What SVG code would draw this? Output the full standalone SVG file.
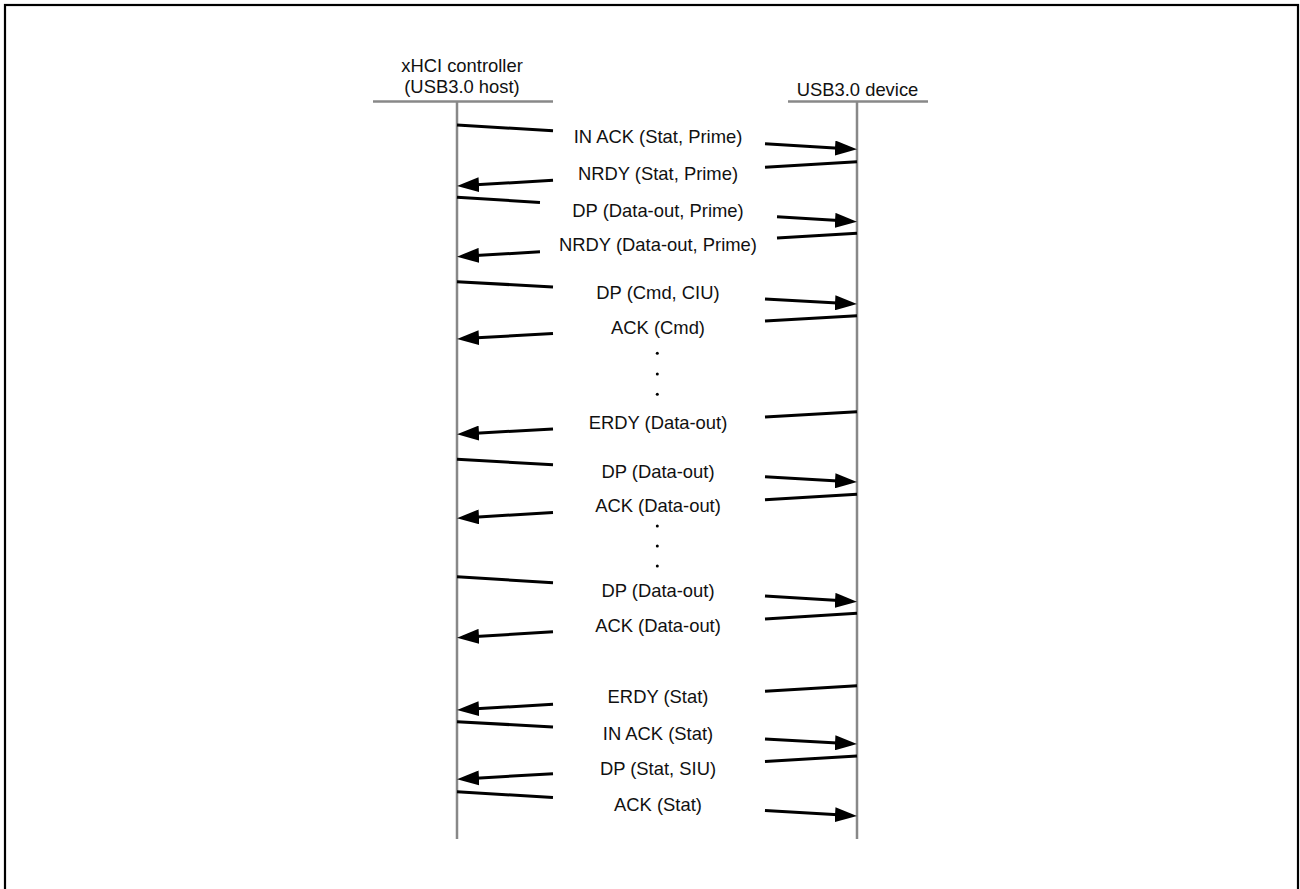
<svg xmlns="http://www.w3.org/2000/svg" width="1300" height="889" viewBox="0 0 1300 889">
<style>
.lbl{font-family:"Liberation Sans",Arial,Helvetica,sans-serif;font-size:18.4px;fill:#111;text-anchor:middle}
.life{stroke:#888;stroke-width:2.5;fill:none}
.head{stroke:#888;stroke-width:2.5;fill:none}
.msg{stroke:#000;stroke-width:3;fill:none}
.arr{stroke:#000;stroke-width:3;fill:none;marker-end:url(#ah)}
</style>
<defs>
<marker id="ah" markerUnits="userSpaceOnUse" markerWidth="22" markerHeight="15" viewBox="0 0 22 15" refX="16" refY="7.5" orient="auto">
<path d="M0,0 L22,7.5 L0,15 z" fill="#000"/>
</marker>
</defs>
<rect x="5" y="5" width="1293" height="900" fill="#fff" stroke="#000" stroke-width="2.2"/>
<g id="host">
<text class="lbl" x="462" y="72">xHCI controller</text>
<text class="lbl" x="462" y="93.3">(USB3.0 host)</text>
<line class="head" x1="373" y1="101.5" x2="553" y2="101.5"/>
<line class="life" x1="457" y1="101.5" x2="457" y2="839"/>
</g>
<g id="device">
<text class="lbl" x="857.5" y="95.5">USB3.0 device</text>
<line class="head" x1="788" y1="101.5" x2="928" y2="101.5"/>
<line class="life" x1="857" y1="101.5" x2="857" y2="839"/>
</g>
<g id="connectors">
<line class="msg" x1="457" y1="125" x2="553" y2="130.8"/>
<line class="arr" x1="765" y1="143.7" x2="851" y2="149"/>
<line class="msg" x1="857" y1="161.7" x2="765" y2="167.3"/>
<line class="arr" x1="553" y1="180.2" x2="463" y2="185.6"/>
<line class="msg" x1="457" y1="197.3" x2="540" y2="202.4"/>
<line class="arr" x1="777" y1="216.8" x2="851" y2="221.3"/>
<line class="msg" x1="857" y1="233.3" x2="777" y2="238"/>
<line class="arr" x1="540" y1="251.8" x2="463" y2="256.3"/>
<line class="msg" x1="457" y1="281.7" x2="553" y2="287"/>
<line class="arr" x1="765" y1="298.9" x2="851" y2="303.7"/>
<line class="msg" x1="857" y1="315.7" x2="765" y2="321.1"/>
<line class="arr" x1="553" y1="333.4" x2="463" y2="338.6"/>
<line class="msg" x1="857" y1="411.7" x2="765" y2="416.9"/>
<line class="arr" x1="553" y1="428.9" x2="463" y2="434"/>
<line class="msg" x1="457" y1="459.3" x2="553" y2="464.8"/>
<line class="arr" x1="765" y1="476.8" x2="851" y2="481.7"/>
<line class="msg" x1="857" y1="494.3" x2="765" y2="499.8"/>
<line class="arr" x1="553" y1="512.5" x2="463" y2="517.9"/>
<line class="msg" x1="457" y1="576.7" x2="553" y2="582.7"/>
<line class="arr" x1="765" y1="596" x2="851" y2="601.3"/>
<line class="msg" x1="857" y1="613.3" x2="765" y2="618.9"/>
<line class="arr" x1="553" y1="631.8" x2="463" y2="637.3"/>
<line class="msg" x1="857" y1="685.7" x2="765" y2="691.3"/>
<line class="arr" x1="553" y1="704.2" x2="463" y2="709.6"/>
<line class="msg" x1="457" y1="721.7" x2="553" y2="727"/>
<line class="arr" x1="765" y1="738.9" x2="851" y2="743.7"/>
<line class="msg" x1="857" y1="756" x2="765" y2="761.4"/>
<line class="arr" x1="553" y1="773.7" x2="463" y2="778.9"/>
<line class="msg" x1="457" y1="791.7" x2="553" y2="797.5"/>
<line class="arr" x1="765" y1="810.4" x2="851" y2="815.6"/>
</g>
<g id="labels">
<text class="lbl" x="658" y="143.3">IN ACK (Stat, Prime)</text>
<text class="lbl" x="658" y="180">NRDY (Stat, Prime)</text>
<text class="lbl" x="658" y="216.7">DP (Data-out, Prime)</text>
<text class="lbl" x="658" y="250.7">NRDY (Data-out, Prime)</text>
<text class="lbl" x="658" y="299">DP (Cmd, CIU)</text>
<text class="lbl" x="658" y="334.3">ACK (Cmd)</text>
<text class="lbl" x="658" y="429">ERDY (Data-out)</text>
<text class="lbl" x="658" y="477.5">DP (Data-out)</text>
<text class="lbl" x="658" y="512.3">ACK (Data-out)</text>
<text class="lbl" x="658" y="596.5">DP (Data-out)</text>
<text class="lbl" x="658" y="631.5">ACK (Data-out)</text>
<text class="lbl" x="658" y="703">ERDY (Stat)</text>
<text class="lbl" x="658" y="739.5">IN ACK (Stat)</text>
<text class="lbl" x="658" y="775">DP (Stat, SIU)</text>
<text class="lbl" x="658" y="810.5">ACK (Stat)</text>
</g>
<g id="ellipses" fill="#000">
<circle cx="657.3" cy="353.3" r="1.5"/>
<circle cx="657.3" cy="374" r="1.5"/>
<circle cx="657.3" cy="394.3" r="1.5"/>
<circle cx="657.3" cy="526" r="1.5"/>
<circle cx="657.3" cy="546" r="1.5"/>
<circle cx="657.3" cy="566" r="1.5"/>
</g>
</svg>
